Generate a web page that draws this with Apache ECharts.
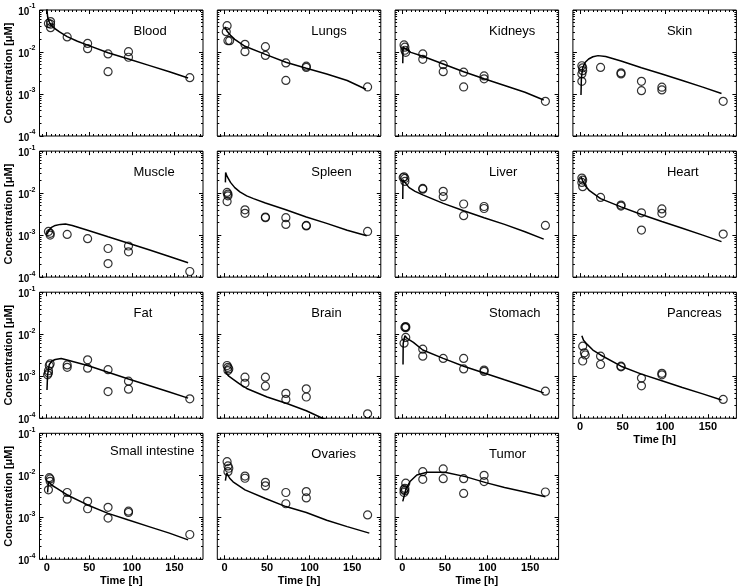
<!DOCTYPE html>
<html><head><meta charset="utf-8">
<script src="https://cdn.jsdelivr.net/npm/echarts@6.0.0/dist/echarts.min.js"></script>
<style>html,body{margin:0;padding:0;background:#fff}#c{width:738px;height:588px}</style>
</head><body><div id="c"></div>
<script>
// ---- data (time in h, concentration in µM) ----
const panelNames = ['Blood','Lungs','Kidneys','Skin','Muscle','Spleen','Liver','Heart','Fat','Brain','Stomach','Pancreas','Small intestine','Ovaries','Tumor'];
const xMajorTicks = [0, 50, 100, 150];
const xMinorTicks = [-5,5,10,15,20,25,30,35,40,45,55,60,65,70,75,80,85,90,95,105,110,115,120,125,130,135,140,145,155,160,165,170,175,180];
const yMajorTicks = [0.0001, 0.001, 0.01, 0.1];
const yMinorTicks = [0.0002,0.0003,0.0004,0.0005,0.0006,0.0007,0.0008,0.0009,0.002,0.003,0.004,0.005,0.006,0.007,0.008,0.009,0.02,0.03,0.04,0.05,0.06,0.07,0.08,0.09];

const bloodObs = [[2,0.048],[4.5,0.053],[4.5,0.046],[4.5,0.038],[24,0.0228],[48,0.016],[48,0.012],[72,0.009],[72,0.0034],[96,0.0102],[96,0.0075],[168,0.00245]];
const bloodFit = [[0,0.2],[0.3,0.1],[1,0.07],[2,0.057],[4,0.047],[8,0.038],[15,0.03],[24,0.0232],[36,0.018],[48,0.0146],[72,0.0096],[96,0.0068],[120,0.0048],[144,0.0034],[166,0.0024]];
const lungsObs = [[3,0.0424],[2,0.0305],[4,0.0186],[6,0.0186],[24,0.0152],[24,0.0102],[48,0.0134],[48,0.0083],[72,0.0055],[72,0.0021],[96,0.0046],[96,0.0043],[168,0.00147]];
const lungsFit = [[0.5,0.04],[3,0.031],[7,0.025],[12,0.02],[24,0.0137],[48,0.0088],[72,0.0057],[96,0.0041],[120,0.003],[144,0.0021],[166,0.0013]];
const kidneysObs = [[2,0.0147],[3,0.013],[3,0.011],[4,0.0098],[24,0.009],[24,0.0067],[48,0.005],[48,0.0034],[72,0.0033],[72,0.00147],[96,0.0027],[96,0.0023],[168,0.00067]];
const kidneysFit = [[0.5,0.0054],[0.8,0.013],[3,0.0118],[10,0.0098],[24,0.0079],[48,0.0052],[72,0.0034],[96,0.0023],[120,0.0016],[144,0.0011],[166,0.00072]];
const skinObs = [[2,0.0047],[3,0.0042],[3,0.0036],[2,0.003],[2,0.002],[24,0.0043],[48,0.0032],[48,0.003],[72,0.002],[72,0.0012],[96,0.00145],[96,0.00125],[168,0.00067]];
const skinFit = [[1,0.00095],[1.5,0.0025],[3,0.0042],[6,0.0057],[10,0.0068],[15,0.0077],[21,0.0082],[30,0.0078],[48,0.0061],[72,0.0042],[96,0.003],[120,0.0021],[144,0.00146],[166,0.00103]];
const muscleObs = [[2,0.00122],[4,0.0011],[4,0.001],[24,0.00104],[48,0.00082],[72,0.00048],[72,0.00021],[96,0.00055],[96,0.0004],[168,0.000136]];
const muscleFit = [[0.5,0.00105],[2,0.00125],[5,0.0015],[10,0.0017],[16,0.0018],[22,0.00183],[30,0.0017],[48,0.0013],[72,0.00091],[96,0.00064],[120,0.00045],[144,0.00031],[166,0.00022]];
const spleenObs = [[3,0.0104],[4,0.0095],[4,0.0086],[3,0.0063],[24,0.004],[24,0.0033],[48,0.0027],[48,0.0026],[72,0.0026],[72,0.0018],[96,0.0017],[96,0.00165],[168,0.00122]];
const spleenFit = [[1,0.018],[1.3,0.031],[3,0.025],[7,0.018],[12,0.0135],[18,0.0107],[26,0.0086],[34,0.0074],[48,0.0058],[72,0.004],[96,0.0027],[120,0.0019],[144,0.0013],[167,0.00096]];
const liverObs = [[2,0.0245],[3,0.0223],[3,0.019],[1,0.0235],[24,0.0129],[24,0.0124],[48,0.011],[48,0.0082],[72,0.0055],[72,0.0029],[96,0.0048],[96,0.0043],[168,0.0017]];
const liverFit = [[0.5,0.0072],[0.7,0.021],[3,0.018],[8,0.0135],[15,0.011],[24,0.0091],[48,0.0057],[72,0.0038],[96,0.0026],[120,0.0018],[144,0.0012],[166,0.0008]];
const heartObs = [[2,0.0228],[3,0.0204],[2,0.018],[3,0.0142],[24,0.0079],[48,0.0052],[48,0.0049],[72,0.0034],[72,0.00132],[96,0.0042],[96,0.0033],[168,0.00106]];
const heartFit = [[1,0.024],[3,0.0197],[6,0.015],[11,0.0114],[24,0.0074],[48,0.0047],[72,0.0031],[96,0.0021],[120,0.00145],[144,0.001],[166,0.0007]];
const fatObs = [[2,0.00135],[2,0.00119],[3,0.0018],[4,0.00197],[1,0.00108],[24,0.00186],[24,0.00163],[48,0.00246],[48,0.00155],[72,0.00143],[72,0.00043],[96,0.00076],[96,0.00049],[168,0.00029]];
const fatFit = [[0.3,0.00047],[1,0.00108],[3,0.0019],[6,0.0023],[10,0.0025],[17,0.00265],[25,0.0024],[48,0.0018],[72,0.00124],[96,0.00086],[120,0.0006],[144,0.00042],[166,0.0003]];
const brainObs = [[3,0.0018],[4,0.00163],[5,0.00149],[4,0.00136],[24,0.00095],[24,0.00068],[48,0.00095],[48,0.00058],[72,0.00039],[72,0.00028],[96,0.0005],[96,0.00032],[168,0.000127]];
const brainFit = [[1,0.00126],[5,0.001],[11,0.00082],[18,0.00065],[26,0.00051],[50,0.00032],[74,0.00022],[96,0.00015],[115,0.0001],[125,0.000085]];
const stomachObs = [[3,0.0147],[4,0.0152],[4,0.0143],[4,0.0084],[2,0.0061],[24,0.0044],[24,0.003],[48,0.00265],[72,0.00265],[72,0.00149],[96,0.0014],[96,0.0013],[168,0.00044]];
const stomachFit = [[0.8,0.0019],[1,0.006],[3,0.0092],[6,0.0078],[13,0.0064],[24,0.0042],[48,0.00265],[72,0.00173],[96,0.00119],[120,0.00082],[144,0.00057],[166,0.0004]];
const pancreasObs = [[3,0.0052],[5,0.0036],[6,0.0032],[3,0.0023],[24,0.003],[24,0.0019],[48,0.00173],[48,0.00167],[72,0.0009],[72,0.00059],[96,0.00117],[96,0.00108],[168,0.00028]];
const pancreasFit = [[2,0.0092],[4,0.0072],[8,0.0058],[15,0.0042],[24,0.0032],[48,0.00173],[72,0.00112],[96,0.00078],[120,0.00054],[144,0.00038],[166,0.00027]];
const intestineObs = [[3,0.0088],[4,0.0082],[4,0.0072],[2,0.0045],[24,0.0039],[24,0.0027],[48,0.0024],[48,0.0016],[72,0.00173],[72,0.00096],[96,0.0014],[96,0.0013],[168,0.00039]];
const intestineFit = [[1,0.0039],[2,0.0071],[6,0.0058],[12,0.0049],[24,0.0034],[48,0.00197],[72,0.00124],[96,0.00086],[120,0.0006],[144,0.00042],[166,0.00029]];
const ovariesObs = [[3,0.0211],[4,0.0167],[5,0.0147],[4,0.0122],[24,0.0096],[24,0.0085],[48,0.0068],[48,0.0056],[72,0.0039],[72,0.0021],[96,0.0041],[96,0.0029],[168,0.00114]];
const ovariesFit = [[1,0.0075],[2.5,0.0115],[6,0.0085],[10,0.007],[24,0.0045],[48,0.0028],[72,0.0018],[96,0.0013],[120,0.00085],[144,0.0006],[170,0.00042]];
const tumorObs = [[2,0.0046],[3,0.0049],[4,0.0065],[2,0.0039],[3,0.0043],[24,0.0122],[24,0.008],[48,0.0142],[48,0.0083],[72,0.0083],[72,0.0037],[96,0.01],[96,0.0071],[168,0.004]];
const tumorFit = [[0.5,0.0024],[4.5,0.0049],[9,0.0071],[17,0.0102],[29,0.0118],[50,0.0118],[74,0.0093],[98,0.0067],[120,0.0051],[144,0.004],[168,0.0031]];

const obsList = [bloodObs,lungsObs,kidneysObs,skinObs,muscleObs,spleenObs,liverObs,heartObs,fatObs,brainObs,stomachObs,pancreasObs,intestineObs,ovariesObs,tumorObs];
const fitList = [bloodFit,lungsFit,kidneysFit,skinFit,muscleFit,spleenFit,liverFit,heartFit,fatFit,brainFit,stomachFit,pancreasFit,intestineFit,ovariesFit,tumorFit];

// ---- layout / style ----
const FONT = '"Liberation Sans", Arial, Helvetica, sans-serif';
const X_MIN = -8.5, X_MAX = 183.5, Y_MIN = 0.0001, Y_MAX = 0.1;
const option = {animation:false, backgroundColor:'#fff', grid:[], xAxis:[], yAxis:[], series:[], title:[]};

panelNames.forEach((name, i) => {
  const r = Math.floor(i / 4), c = i % 4;
  const left = 39.5 + 177.8 * c, top = 10 + 141.1 * r;
  option.grid.push({left: left, top: top, width: 163.5, height: 126, show: true,
    borderColor: '#000', borderWidth: 1, backgroundColor: 'rgba(0,0,0,0)'});
  const showX = (i >= 12 || i === 11), showY = (c === 0);
  const xBase = option.xAxis.length, yBase = option.yAxis.length;
  [['bottom', xMajorTicks, 4, showX], ['bottom', xMinorTicks, 2, false],
   ['top', xMajorTicks, 4, false], ['top', xMinorTicks, 2, false]].forEach(([pos, vals, len, lab]) => {
    option.xAxis.push({gridIndex: i, type: 'value', position: pos, min: X_MIN, max: X_MAX,
      axisLine: {show: false, onZero: false}, splitLine: {show: false},
      axisTick: {show: true, inside: true, length: len, customValues: vals, lineStyle: {color: '#000', width: 1}},
      axisLabel: {show: lab, customValues: xMajorTicks, margin: 3, color: '#000', fontSize: 11, fontWeight: 'bold', fontFamily: FONT},
      name: lab ? 'Time [h]' : '', nameLocation: 'middle', nameGap: 16,
      nameTextStyle: {color: '#000', fontSize: 11, fontWeight: 'bold', fontFamily: FONT}});
  });
  [['left', yMajorTicks, 4, showY], ['left', yMinorTicks, 2, false],
   ['right', yMajorTicks, 4, false], ['right', yMinorTicks, 2, false]].forEach(([pos, vals, len, lab]) => {
    option.yAxis.push({gridIndex: i, type: 'log', logBase: 10, position: pos, min: Y_MIN, max: Y_MAX,
      axisLine: {show: false, onZero: false}, splitLine: {show: false}, minorTick: {show: false},
      axisTick: {show: true, inside: true, length: len, customValues: vals, lineStyle: {color: '#000', width: 1}},
      axisLabel: {show: lab, customValues: yMajorTicks, margin: 4, color: '#000', fontFamily: FONT,
        formatter: v => '{b|10}{s|' + Math.round(Math.log10(v)) + '}',
        rich: {b: {fontSize: 10, fontWeight: 'bold', fontFamily: FONT, color: '#000', lineHeight: 14, verticalAlign: 'bottom'},
               s: {fontSize: 7, fontWeight: 'bold', fontFamily: FONT, color: '#000', lineHeight: 8, verticalAlign: 'top'}}},
      name: lab ? 'Concentration [\u03bcM]' : '', nameLocation: 'middle', nameGap: 25,
      nameTextStyle: {color: '#000', fontSize: 11, fontWeight: 'bold', fontFamily: FONT}});
  });
  option.series.push({type: 'line', xAxisIndex: xBase, yAxisIndex: yBase, data: fitList[i],
    symbol: 'none', showSymbol: false, clip: true, silent: true, z: 2,
    lineStyle: {color: '#000', width: 1.5}});
  option.series.push({type: 'scatter', xAxisIndex: xBase, yAxisIndex: yBase, data: obsList[i],
    symbol: 'circle', symbolSize: 8, z: 3, silent: true,
    itemStyle: {color: 'rgba(0,0,0,0)', borderColor: '#000', borderWidth: 1.2}});
  const special = (name === 'Small intestine');
  option.title.push({text: name, left: left + (special ? 70.5 : 94), top: top + (special ? 12 : 15), padding: 0,
    textStyle: {color: '#000', fontSize: 13, fontWeight: 'normal', fontFamily: FONT}});
});

const chart = echarts.init(document.getElementById('c'), null, {renderer: 'canvas'});
chart.setOption(option);
</script>
</body></html>
